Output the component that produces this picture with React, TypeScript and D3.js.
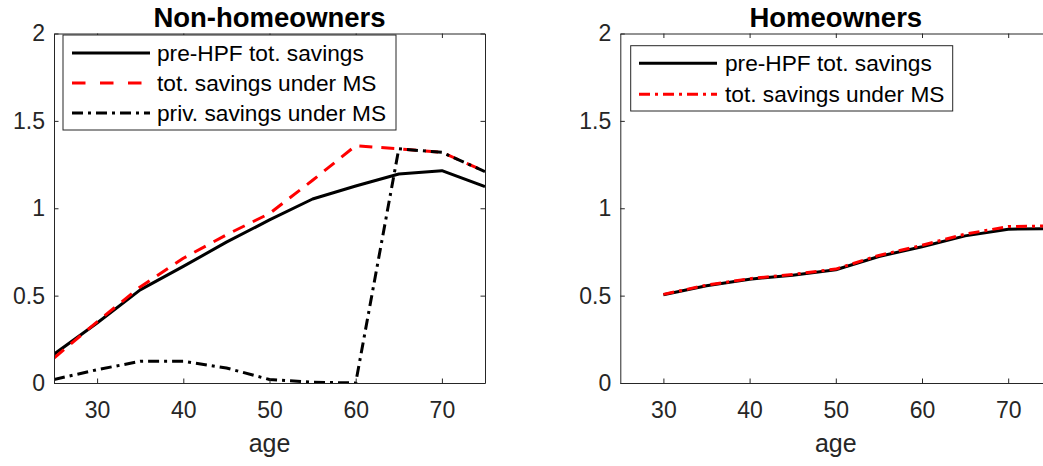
import React, { useEffect, useRef } from 'react'
import * as d3 from 'd3'

// Non-homeowners panel
const agesNon = [25, 30, 35, 40, 45, 50, 55, 60, 65, 70, 75]
const preHpfNon = [0.165, 0.343, 0.533, 0.667, 0.806, 0.933, 1.053, 1.127, 1.196, 1.215, 1.124]
const totMsNon = [0.143, 0.35, 0.55, 0.714, 0.848, 0.97, 1.16, 1.358, 1.34, 1.32, 1.21]
const privMsNon = [0.02, 0.076, 0.124, 0.124, 0.086, 0.02, 0.005, 0.0, 1.34, 1.32, 1.21]

// Homeowners panel
const agesHome = [30, 35, 40, 45, 50, 55, 60, 65, 70, 75]
const preHpfHome = [0.505, 0.556, 0.594, 0.617, 0.648, 0.724, 0.78, 0.842, 0.88, 0.884]
const totMsHome = [0.507, 0.56, 0.597, 0.621, 0.652, 0.73, 0.788, 0.852, 0.895, 0.899]

const xTicks = [30, 40, 50, 60, 70]
const yTicks = [0, 0.5, 1, 1.5, 2]

const INK = '#262626'
const FONT = 'Liberation Sans, Arial, Helvetica, sans-serif'

type Series = { label: string; values: number[]; color: string; dash: string | null }

type PanelProps = {
  left: number
  title: string
  ages: number[]
  series: Series[]
  legendBox: { x: number; y: number; w: number; h: number; rowY: number[]; lineX: number; textX: number }
  id: string
}

const top = 33.5
const bottom = 383
const plotW = 431

function Panel({ left, title, ages, series, legendBox, id }: PanelProps) {
  const gRef = useRef<SVGGElement>(null)
  const x = d3.scaleLinear().domain([25, 75]).range([left, left + plotW])
  const y = d3.scaleLinear().domain([0, 2]).range([bottom, top])

  useEffect(() => {
    const g = d3.select(gRef.current)
    g.selectAll('*').remove()
    const style = (sel: any) => {
      sel.attr('font-size', null).attr('font-family', null)
      sel.selectAll('path.domain').attr('stroke', INK).attr('stroke-width', 1).attr('fill', 'none')
      sel.selectAll('.tick line').attr('stroke', INK).attr('stroke-width', 1)
      sel.selectAll('.tick text').attr('fill', INK).attr('font-size', 23).attr('font-family', FONT)
    }
    g.append('g')
      .attr('transform', `translate(0,${bottom})`)
      .call(d3.axisBottom(x).tickValues(xTicks).tickSizeInner(-4.5).tickSizeOuter(0).tickPadding(18.5).tickFormat(d3.format('d')))
      .call(style)
    g.append('g')
      .attr('transform', `translate(0,${top})`)
      .call(d3.axisTop(x).tickValues(xTicks).tickSizeInner(-4.5).tickSizeOuter(0).tickFormat(() => ''))
      .call(style)
    g.append('g')
      .attr('transform', `translate(${left},0)`)
      .call(d3.axisLeft(y).tickValues(yTicks).tickSizeInner(-4.5).tickSizeOuter(0).tickPadding(9).tickFormat(d3.format('')))
      .call(style)
    g.append('g')
      .attr('transform', `translate(${left + plotW},0)`)
      .call(d3.axisRight(y).tickValues(yTicks).tickSizeInner(-4.5).tickSizeOuter(0).tickFormat(() => ''))
      .call(style)
  }, [])

  const line = d3
    .line<number>()
    .x((_, i) => x(ages[i]))
    .y((v) => y(v))

  return (
    <g>
      <defs>
        <clipPath id={id}>
          <rect x={left} y={top} width={plotW} height={bottom - top} />
        </clipPath>
      </defs>
      <g clipPath={`url(#${id})`}>
        {series.map((s, i) => (
          <path
            key={i}
            d={line(s.values) || ''}
            fill="none"
            stroke={s.color}
            strokeWidth={3}
            strokeDasharray={s.dash || undefined}
            strokeLinejoin="round"
          />
        ))}
      </g>
      <g ref={gRef} />
      <text
        x={left + plotW / 2}
        y={26.5}
        textAnchor="middle"
        fontWeight="bold"
        fontSize={27.5}
        fontFamily={FONT}
        fill="#000"
      >
        {title}
      </text>
      <text x={left + plotW / 2} y={452} textAnchor="middle" fontSize={25} fontFamily={FONT} fill={INK}>
        age
      </text>
      <rect
        x={legendBox.x}
        y={legendBox.y}
        width={legendBox.w}
        height={legendBox.h}
        fill="#fff"
        stroke={INK}
        strokeWidth={1}
      />
      {series.map((s, i) => (
        <g key={i}>
          <line
            x1={legendBox.lineX}
            x2={legendBox.lineX + 78}
            y1={legendBox.rowY[i]}
            y2={legendBox.rowY[i]}
            stroke={s.color}
            strokeWidth={3}
            strokeDasharray={s.dash === '13,9' ? '13.5,14.5' : s.dash || undefined}
          />
          <text
            x={legendBox.textX}
            y={legendBox.rowY[i] + 7.8}
            fontSize={22.7}
            fontFamily={FONT}
            fill="#000"
          >
            {s.label}
          </text>
        </g>
      ))}
    </g>
  )
}

export default function App() {
  const nonSeries: Series[] = [
    { label: 'pre-HPF tot. savings', values: preHpfNon, color: '#000', dash: null },
    { label: 'tot. savings under MS', values: totMsNon, color: '#ff0000', dash: '13,9' },
    { label: 'priv. savings under MS', values: privMsNon, color: '#000', dash: '11,5,3,5' },
  ]
  const homeSeries: Series[] = [
    { label: 'pre-HPF tot. savings', values: preHpfHome, color: '#000', dash: null },
    { label: 'tot. savings under MS', values: totMsHome, color: '#ff0000', dash: '11,5,3,5' },
  ]
  return (
    <svg
      width={1043}
      height={466}
      style={{ position: 'absolute', left: 0, top: 0, background: '#fff', display: 'block' }}
    >
      <rect width={1043} height={466} fill="#fff" />
      <Panel
        id="clipNon"
        left={54}
        title="Non-homeowners"
        ages={agesNon}
        series={nonSeries}
        legendBox={{ x: 63, y: 35, w: 333, h: 95, rowY: [53, 83, 113], lineX: 72, textX: 157 }}
      />
      <Panel
        id="clipHome"
        left={620.3}
        title="Homeowners"
        ages={agesHome}
        series={homeSeries}
        legendBox={{ x: 630.7, y: 45.7, w: 322, h: 65.3, rowY: [63.3, 94.3], lineX: 639, textX: 725 }}
      />
    </svg>
  )
}
